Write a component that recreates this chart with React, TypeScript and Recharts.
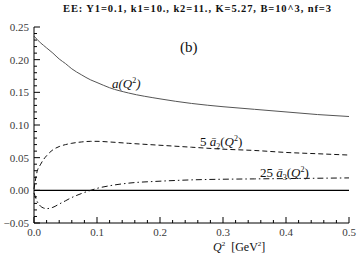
import { LineChart, Line, XAxis, YAxis, ReferenceLine } from "recharts";

const q2 = [0, 0.005, 0.01, 0.015, 0.02, 0.03, 0.04, 0.05, 0.06, 0.075, 0.09, 0.1, 0.12, 0.15, 0.2, 0.25, 0.3, 0.35, 0.4, 0.45, 0.5];
const aQ2 = [0.236, 0.231, 0.226, 0.222, 0.218, 0.21, 0.201, 0.194, 0.186, 0.177, 0.169, 0.165, 0.157, 0.149, 0.14, 0.133, 0.128, 0.124, 0.12, 0.116, 0.113];
const a2x5 = [0.002, 0.029, 0.039, 0.047, 0.053, 0.062, 0.067, 0.07, 0.072, 0.074, 0.075, 0.075, 0.074, 0.072, 0.069, 0.066, 0.063, 0.061, 0.058, 0.056, 0.054];
const a3x25 = [-0.004, -0.017, -0.024, -0.027, -0.028, -0.026, -0.021, -0.016, -0.011, -0.005, 0, 0.003, 0.007, 0.011, 0.014, 0.016, 0.017, 0.0175, 0.018, 0.0185, 0.019];

const xMajor = [0, 0.1, 0.2, 0.3, 0.4, 0.5];
const xLabels = ["0.0", "0.1", "0.2", "0.3", "0.4", "0.5"];
const yMajor = [-0.05, 0, 0.05, 0.1, 0.15, 0.2, 0.25];
const yLabels = ["\u22120.05", "0.00", "0.05", "0.10", "0.15", "0.20", "0.25"];

const xTicks: number[] = [];
for (let i = 0; i <= 25; i++) xTicks.push(+(i * 0.02).toFixed(2));
const yTicks: number[] = [];
for (let i = -5; i <= 25; i++) yTicks.push(+(i * 0.01).toFixed(2));

const data = q2.map((q, i) => ({ q2: q, a: aQ2[i], a2: a2x5[i], a3: a3x25[i] }));

const font = "Liberation Serif, Times New Roman, serif";
const isMajor = (v: number, majors: number[]) => majors.some((m) => Math.abs(m - v) < 1e-6);
const tickText = { fontFamily: font, fontSize: 11, fill: "#3a3a3a" };

function makeTick(side: "left" | "right" | "top" | "bottom") {
  return (props: any) => {
    const { x, y, payload } = props;
    const v = payload.value;
    const majors = side === "left" || side === "right" ? yMajor : xMajor;
    const major = isMajor(v, majors);
    const len = major ? 6 : 3;
    const idx = majors.findIndex((m) => Math.abs(m - v) < 1e-6);
    if (side === "left")
      return (
        <g>
          <line x1={x} y1={y} x2={x + len} y2={y} stroke="#000" />
          {major && (
            <text x={x - 5} y={y + 4} textAnchor="end" style={tickText}>
              {yLabels[idx]}
            </text>
          )}
        </g>
      );
    if (side === "right") return <line x1={x} y1={y} x2={x - len} y2={y} stroke="#000" />;
    if (side === "top") return <line x1={x} y1={y} x2={x} y2={y + len} stroke="#000" />;
    return (
      <g>
        <line x1={x} y1={y} x2={x} y2={y - len} stroke="#000" />
        {major && (
          <text x={x} y={y + 13} textAnchor="middle" style={tickText}>
            {xLabels[idx]}
          </text>
        )}
      </g>
    );
  };
}

const lbl = (left: number, top: number, size: number, extra: any = {}) => ({
  position: "absolute" as const,
  left,
  top,
  fontSize: size,
  fontFamily: font,
  color: "#111",
  whiteSpace: "nowrap" as const,
  lineHeight: 1,
  ...extra,
});

const sup = (t: string, size = 8) => (
  <span style={{ fontSize: size, position: "relative", top: -5, fontStyle: "normal" }}>{t}</span>
);
const sub = (t: string, size = 8) => (
  <span style={{ fontSize: size, position: "relative", top: 3, fontStyle: "normal" }}>{t}</span>
);

export default function App() {
  return (
    <div style={{ position: "relative", width: 360, height: 261, background: "#fff", overflow: "hidden" }}>
      <style>{`body{margin:0}`}</style>
      <LineChart width={360} height={261} data={data} margin={{ top: 27, right: 11, bottom: 0, left: 0 }}>
        <XAxis dataKey="q2" type="number" domain={[0, 0.5]} ticks={xTicks} interval={0} height={38}
          axisLine={{ stroke: "#000" }} tickLine={false} tickSize={0} tickMargin={0} tick={makeTick("bottom")} />
        <XAxis xAxisId="top" orientation="top" dataKey="q2" type="number" domain={[0, 0.5]} ticks={xTicks} interval={0} height={0}
          axisLine={{ stroke: "#000" }} tickLine={false} tickSize={0} tickMargin={0} tick={makeTick("top")} />
        <YAxis type="number" domain={[-0.05, 0.25]} ticks={yTicks} interval={0} width={34}
          axisLine={{ stroke: "#000" }} tickLine={false} tickSize={0} tickMargin={0} tick={makeTick("left")} />
        <YAxis yAxisId="right" orientation="right" type="number" domain={[-0.05, 0.25]} ticks={yTicks} interval={0} width={0}
          axisLine={{ stroke: "#000" }} tickLine={false} tickSize={0} tickMargin={0} tick={makeTick("right")} />
        <ReferenceLine y={0} stroke="#000" strokeWidth={1.2} />
        <Line type="monotone" dataKey="a" stroke="#555" strokeWidth={1} dot={false} isAnimationActive={false} />
        <Line type="monotone" dataKey="a2" stroke="#111" strokeWidth={1} strokeDasharray="5 3" dot={false} isAnimationActive={false} />
        <Line type="monotone" dataKey="a3" stroke="#111" strokeWidth={1} strokeDasharray="6 3 1.5 3" dot={false} isAnimationActive={false} />
      </LineChart>
      <div style={lbl(63, 4, 10.5, { fontWeight: "bold", letterSpacing: 0.9 })}>
        EE: Y1=0.1, k1=10., k2=11., K=5.27, B=10^3, nf=3
      </div>
      <div style={lbl(180, 40, 15)}>(b)</div>
      <div style={lbl(112, 77, 13, { fontStyle: "italic" })}>
        a(Q{sup("2")})
      </div>
      <div style={lbl(200, 135, 13)}>
        5 <i>ā</i>{sub("2")}(<i>Q</i>{sup("2")})
      </div>
      <div style={lbl(260, 166, 13)}>
        25 <i>ā</i>{sub("3")}(<i>Q</i>{sup("2")})
      </div>
      <div style={lbl(213, 241, 12)}>
        <i>Q</i>{sup("2", 7)}&nbsp;&nbsp;[GeV{sup("2", 7)}]
      </div>
    </div>
  );
}
